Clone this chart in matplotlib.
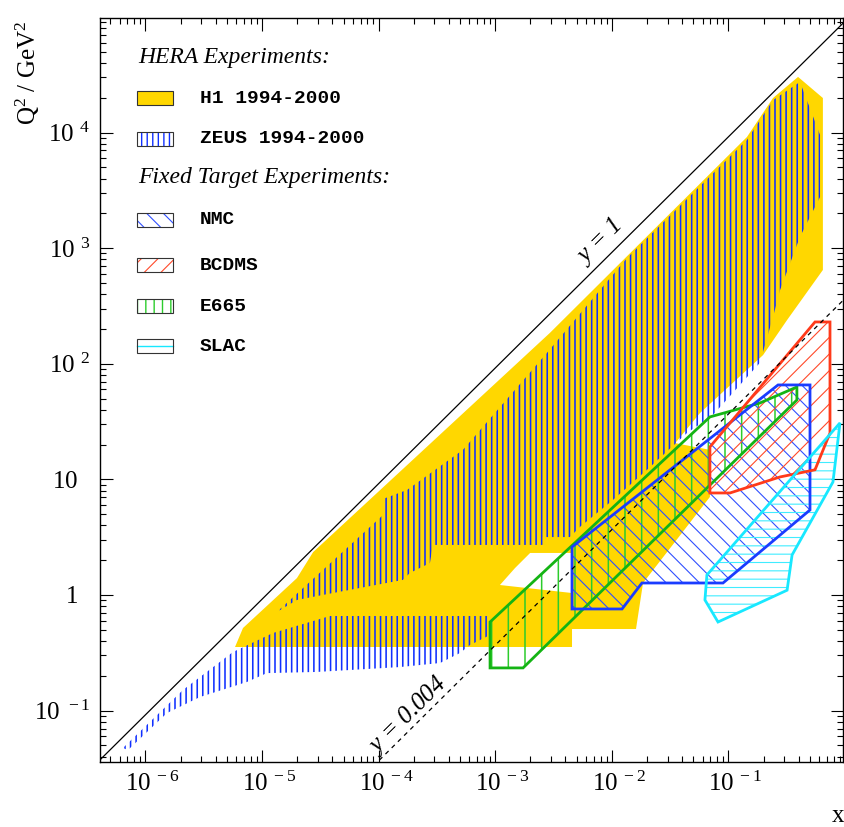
import numpy as np
import matplotlib
matplotlib.use('Agg')
import matplotlib.pyplot as plt
from matplotlib.patches import Polygon, PathPatch, Rectangle
from matplotlib.path import Path
from matplotlib.lines import Line2D
import matplotlib.transforms as mtransforms
from matplotlib.ticker import FixedLocator, FixedFormatter, LogLocator, NullFormatter

plt.rcParams['font.family'] = ['Liberation Serif', 'DejaVu Serif']
plt.rcParams['mathtext.fontset'] = 'custom'
plt.rcParams['mathtext.rm'] = 'Liberation Serif'
plt.rcParams['mathtext.it'] = 'Liberation Serif:italic'
plt.rcParams['mathtext.bf'] = 'Liberation Serif:bold'
plt.rcParams['hatch.linewidth'] = 0.8

# ---------------- data ----------------
s_hera = 9.2e4          # GeV^2, Q^2 = s x y
y_lines = [1.0, 0.004]

# H1 1994-2000 (outer contour and inner gap)
h1_x = [5.86e-6, 6.86e-6, 1.99e-5, 2.74e-5, 2.94e-3, 0.144, 0.241, 0.395, 0.645,
        0.645, 0.318, 0.198, 0.0570, 0.0349, 0.0693, 0.0693, 0.0185, 0.0161,
        0.00455, 0.00455]
h1_q2 = [0.355, 0.518, 1.40, 2.35, 185, 9160, 19900, 30300, 19900,
         648, 239, 119, 37.5, 20.6, 18.0, 7.05, 1.27, 0.508,
         0.508, 0.355]
h1_gap_x = [1.99e-3, 4.55e-3, 4.55e-3, 1.096e-3, 1.476e-3]
h1_gap_q2 = [2.31, 2.31, 1.04, 1.22, 1.71]

# ZEUS 1994-2000 (two bands)
zeus_hi_x = [1.34e-5, 1.09e-4, 1.09e-4, 1.75e-4, 5.28e-4, 2.77e-3, 1.35e-2, 0.144,
             0.241, 0.410, 0.610, 0.610, 0.410, 0.277, 0.241, 0.186, 0.0736,
             0.0441, 0.0200, 0.0102, 0.00532, 0.00437, 0.00256, 0.00256,
             2.92e-4, 2.75e-4, 1.85e-4, 1.61e-4, 4.05e-5, 1.99e-5]
zeus_hi_q2 = [0.713, 4.92, 6.77, 8.10, 18.0, 124, 823, 8630,
              19100, 27400, 9530, 2770, 1250, 435, 254, 102, 36.1,
              25.2, 12.1, 6.63, 3.88, 3.17, 3.17, 2.71,
              2.71, 1.89, 1.55, 1.35, 1.04, 0.906]
zeus_lo_x = [6.41e-7, 2.10e-6, 5.62e-6, 1.24e-5, 3.82e-5, 9.02e-4, 9.02e-4, 6.07e-4,
             4.98e-4, 3.36e-4, 1.52e-4, 2.96e-5, 1.10e-5, 7.42e-6, 2.93e-6,
             1.53e-6, 7.08e-7]
zeus_lo_q2 = [0.0475, 0.151, 0.321, 0.469, 0.658, 0.658, 0.451, 0.369,
              0.315, 0.258, 0.238, 0.216, 0.211, 0.177, 0.131,
              0.0953, 0.0456]

# Fixed target experiments
nmc_x = [0.00455, 0.00455, 0.01222, 0.0181, 0.0897, 0.500, 0.500, 0.266]
nmc_q2 = [2.60, 0.757, 0.757, 1.27, 1.27, 5.44, 65.6, 65.6]
bcdms_x = [0.552, 0.742, 0.742, 0.552, 0.277, 0.103, 0.0693, 0.0693]
bcdms_q2 = [230, 230, 25.2, 12.1, 10.5, 7.63, 7.63, 19.1]
e665_x = [9.02e-4, 0.0693, 0.186, 0.386, 0.386, 0.00173, 9.02e-4]
e665_q2 = [0.584, 34.7, 45.8, 63.0, 48.6, 0.234, 0.234]
slac_x = [0.904, 0.787, 0.351, 0.318, 0.0813, 0.0628, 0.0653]
slac_q2 = [30.8, 9.50, 2.22, 1.10, 0.584, 0.906, 1.49]

xtick_vals = [1e-6, 1e-5, 1e-4, 1e-3, 1e-2, 1e-1]
xtick_labels = [r'$10^{\ -6}$', r'$10^{\ -5}$', r'$10^{\ -4}$',
                r'$10^{\ -3}$', r'$10^{\ -2}$', r'$10^{\ -1}$']
ytick_vals = [1e-1, 1, 10, 1e2, 1e3, 1e4]
ytick_labels = [r'$10^{\enspace -1}$', r'$1$', r'$10$',
                r'$10^{\enspace 2}$', r'$10^{\enspace 3}$', r'$10^{\enspace 4}$']

legend_names = ['H1 1994-2000', 'ZEUS 1994-2000', 'NMC', 'BCDMS', 'E665', 'SLAC']

# colours
YEL = '#FFD700'
ZBLUE = '#1030ff'
NMC_C = '#1a3cff'
BCD_C = '#ff3a1a'
E665_C = '#14b414'
SLAC_C = '#18e8ff'

# ---------------- figure ----------------
fig = plt.figure(figsize=(8.44, 8.27), dpi=100)
ax = fig.add_axes([100/844, 65/827, 743/844, 744/827])
ax.set_xscale('log')
ax.set_yscale('log')
ax.set_xlim(10**-6.39, 10**-0.018)
ax.set_ylim(10**-1.4446, 10**4.991)


def ring(xs, ys, positive):
    v = np.column_stack([xs, ys]).astype(float)
    lx, ly = np.log10(v[:, 0]), np.log10(v[:, 1])
    a = np.sum(lx*np.roll(ly, -1) - np.roll(lx, -1)*ly)
    if (a > 0) != positive:
        v = v[::-1]
    return v


outer = ring(h1_x, h1_q2, True)
inner = ring(h1_gap_x, h1_gap_q2, False)
verts = np.concatenate([outer, outer[:1], inner, inner[:1]])
codes = ([Path.MOVETO] + [Path.LINETO]*(len(outer)-1) + [Path.CLOSEPOLY] +
         [Path.MOVETO] + [Path.LINETO]*(len(inner)-1) + [Path.CLOSEPOLY])
ax.add_patch(PathPatch(Path(verts, codes), facecolor=YEL, edgecolor='none',
                       linewidth=0, zorder=1))


def hatched(xs, ys, color, hatch, hlw, z, transform=None, rect=None):
    with plt.rc_context({'hatch.linewidth': hlw}):
        if rect is None:
            p = Polygon(np.column_stack([xs, ys]), closed=True, facecolor='none',
                        edgecolor=color, linewidth=0, hatch=hatch, zorder=z)
        else:
            p = Rectangle(rect[:2], rect[2], rect[3], facecolor='none',
                          edgecolor=color, linewidth=0, hatch=hatch, zorder=z,
                          transform=transform)
    if hasattr(p, 'set_hatch_linewidth'):
        p.set_hatch_linewidth(hlw)
    ax.add_patch(p)
    return p


def outline(xs, ys, color, z, lw=2.0):
    ax.add_patch(Polygon(np.column_stack([xs, ys]), closed=True, facecolor='none',
                         edgecolor=color, linewidth=lw, zorder=z))


# ZEUS
hatched(zeus_hi_x, zeus_hi_q2, ZBLUE, '|||', 1.15, 2)
hatched(zeus_lo_x, zeus_lo_q2, ZBLUE, '|||', 1.15, 2)

# fixed target
hatched(e665_x, e665_q2, '#2ccc2c', '|', 1.1, 4)
hatched(nmc_x, nmc_q2, '#3050ff', '\\\\', 0.8, 4)
hatched(bcdms_x, bcdms_q2, '#ff4a2a', '//', 0.8, 4)
hatched(slac_x, slac_q2, '#40ecff', '--', 0.8, 4)
outline(e665_x, e665_q2, E665_C, 5)
outline(nmc_x, nmc_q2, NMC_C, 5)
outline(bcdms_x, bcdms_q2, BCD_C, 5)
outline(slac_x, slac_q2, SLAC_C, 5)

# kinematic limits
xl = np.array([1e-8, 10.0])
ax.plot(xl, y_lines[0]*s_hera*xl, color='black', lw=0.9, zorder=6)
ax.plot(xl, y_lines[1]*s_hera*xl, color='black', lw=0.9, zorder=6,
        linestyle=(0, (3.5, 3.5)))
ax.text(0.00774, 1132, r'$y$ = 1', fontsize=18, style='italic', rotation=44.7,
        rotation_mode='anchor', ha='center', va='center', zorder=7)
ax.text(1.75e-4, 0.0898, r'$y$ = 0.004', fontsize=18, style='italic', rotation=44.7,
        rotation_mode='anchor', ha='center', va='center', zorder=7)

# ticks
ax.xaxis.set_major_locator(FixedLocator(xtick_vals))
ax.xaxis.set_major_formatter(FixedFormatter(xtick_labels))
ax.yaxis.set_major_locator(FixedLocator(ytick_vals))
ax.yaxis.set_major_formatter(FixedFormatter(ytick_labels))
ax.xaxis.set_minor_locator(LogLocator(base=10, subs=np.arange(2, 10), numticks=30))
ax.yaxis.set_minor_locator(LogLocator(base=10, subs=np.arange(2, 10), numticks=30))
ax.xaxis.set_minor_formatter(NullFormatter())
ax.yaxis.set_minor_formatter(NullFormatter())
ax.tick_params(which='both', direction='in', top=True, right=True, width=0.8)
ax.tick_params(which='major', length=9)
ax.tick_params(which='minor', length=4.5)
ax.tick_params(axis='x', which='major', labelsize=18, pad=7)
ax.tick_params(axis='y', which='major', labelsize=18, pad=7)
for sp in ax.spines.values():
    sp.set_linewidth(1.0)

off = mtransforms.ScaledTranslation(-20/100, 0, fig.dpi_scale_trans)
for lab in ax.get_xticklabels():
    lab.set_horizontalalignment('left')
    lab.set_transform(lab.get_transform() + off)
offy = mtransforms.ScaledTranslation(-12/100, 0, fig.dpi_scale_trans)
for lab in ax.get_yticklabels():
    if lab.get_text() in (r'$1$', r'$10$'):
        lab.set_transform(lab.get_transform() + offy)

fig.text(28/844, 1-73/827, r'Q$^2$ / GeV$^2$', fontsize=18, rotation=90,
         ha='center', va='center')
fig.text(838/844, 1-816/827, 'x', fontsize=18, ha='center', va='center')

# legend (manual, ROOT style)
T = ax.transAxes
ax.text(0.0511, 0.940, 'HERA Experiments:', transform=T, fontsize=17,
        style='italic', va='baseline', ha='left')
ax.text(0.0511, 0.778, 'Fixed Target Experiments:', transform=T, fontsize=17,
        style='italic', va='baseline', ha='left')
bx, bw, bh = 0.0494, 0.0493, 0.0188
rows = [0.883, 0.8284, 0.7195, 0.6586, 0.6035, 0.5497]
edge = '#333333'
# H1
ax.add_patch(Rectangle((bx, rows[0]), bw, bh, transform=T, facecolor=YEL,
                       edgecolor=edge, lw=0.8, zorder=8))
# ZEUS
hatched(None, None, ZBLUE, '|||', 1.0, 8, transform=T, rect=(bx, rows[1], bw, bh))
# NMC / BCDMS / E665
hatched(None, None, '#3050ff', '\\\\', 0.8, 8, transform=T, rect=(bx, rows[2], bw, bh))
hatched(None, None, '#ff4a2a', '//', 0.8, 8, transform=T, rect=(bx, rows[3], bw, bh))
hatched(None, None, '#2ccc2c', '||', 1.0, 8, transform=T, rect=(bx, rows[4], bw, bh))
ax.add_line(Line2D([bx, bx+bw], [rows[5]+bh/2]*2, transform=T, color=SLAC_C,
                   lw=1.0, zorder=8))
for r in rows[1:]:
    ax.add_patch(Rectangle((bx, r), bw, bh, transform=T, facecolor='none',
                           edgecolor=edge, lw=0.8, zorder=9))
for r, name in zip(rows, legend_names):
    ax.text(0.1346, r + bh/2, name, transform=T, fontsize=14,
            family=['Liberation Mono', 'DejaVu Sans Mono'], weight='bold',
            va='center', ha='left', zorder=9)

fig.savefig('out.png', dpi=100)
